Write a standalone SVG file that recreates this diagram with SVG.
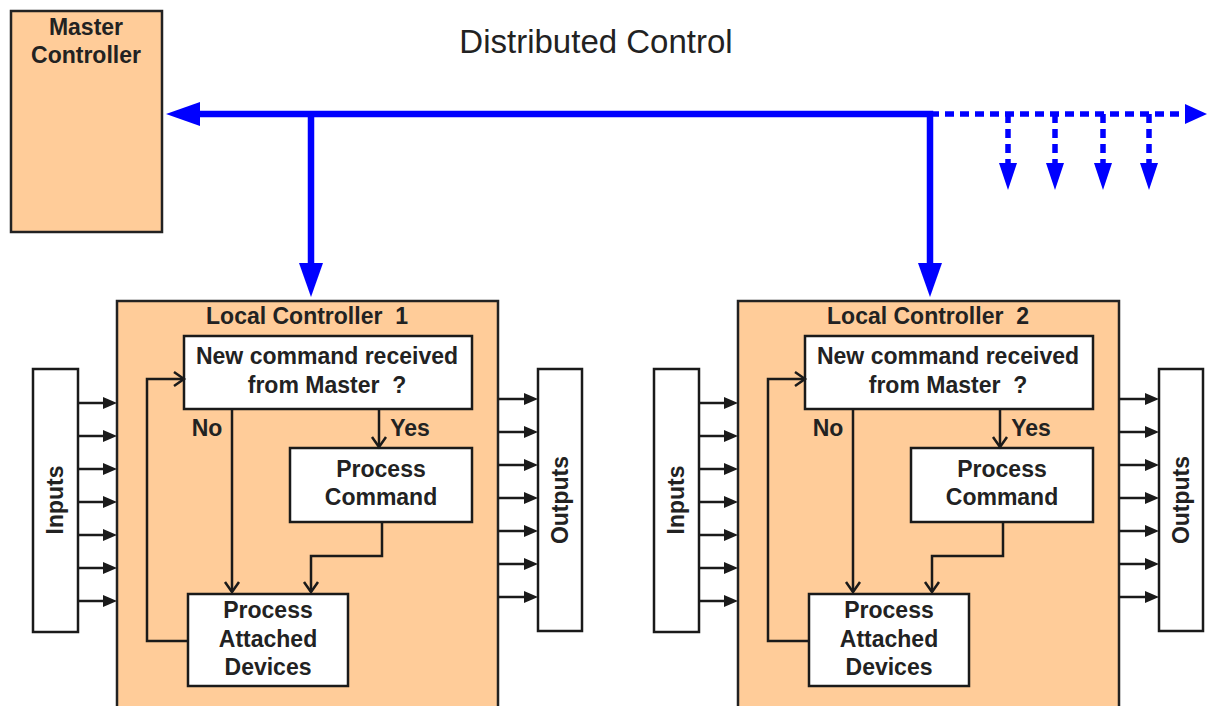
<svg xmlns="http://www.w3.org/2000/svg" width="1208" height="706" viewBox="0 0 1208 706">
  <style>
    .bg { fill: #ffffff; }
    .peach { fill: #ffcc99; stroke: #222222; stroke-width: 2.5; }
    .box { fill: #ffffff; stroke: #1a1a1a; stroke-width: 2.5; }
    .lbl { font-family: "Liberation Sans", Arial, sans-serif; font-weight: bold; font-size: 23px; fill: #222222; text-anchor: middle; white-space: pre; }
    .heading { font-family: "Liberation Sans", Arial, sans-serif; font-size: 33px; fill: #222222; text-anchor: middle; }
    .bus { fill: none; stroke: #0000ff; stroke-width: 6.5; stroke-linejoin: miter; }
    .bus-dash { fill: none; stroke: #0000ff; stroke-width: 5.5; stroke-dasharray: 9 6; }
    .flow { fill: none; stroke: #1a1a1a; stroke-width: 2.5; }
    .io { fill: none; stroke: #1a1a1a; stroke-width: 2.5; marker-end: url(#tri); }
  </style>
  <defs>
    <marker id="busHead" markerUnits="userSpaceOnUse" viewBox="0 0 34 24" markerWidth="34" markerHeight="24" refX="0" refY="12" orient="auto-start-reverse">
      <path d="M0,0 L34,12 L0,24 z" fill="#0000ff"/>
    </marker>
    <marker id="dashHead" markerUnits="userSpaceOnUse" viewBox="0 0 27 18" markerWidth="27" markerHeight="18" refX="0" refY="9" orient="auto">
      <path d="M0,0 L27,9 L0,18 z" fill="#0000ff"/>
    </marker>
    <marker id="endHead" markerUnits="userSpaceOnUse" viewBox="0 0 22 20" markerWidth="22" markerHeight="20" refX="0" refY="10" orient="auto">
      <path d="M0,0 L22,10 L0,20 z" fill="#0000ff"/>
    </marker>
    <marker id="tri" markerUnits="userSpaceOnUse" viewBox="0 0 14 12" markerWidth="14" markerHeight="12" refX="0" refY="6" orient="auto">
      <path d="M0,0 L14,6 L0,12 z" fill="#1a1a1a"/>
    </marker>
    <marker id="chev" markerUnits="userSpaceOnUse" viewBox="-12 -9 14 18" markerWidth="14" markerHeight="18" refX="0" refY="0" orient="auto" overflow="visible">
      <path d="M-10,-7 L0,0 L-10,7" fill="none" stroke="#1a1a1a" stroke-width="2.5"/>
    </marker>
  </defs>

  <rect class="bg" x="0" y="0" width="1208" height="706"/>

  <text id="title" class="heading" x="596" y="53">Distributed Control</text>

  <g id="master-controller">
    <rect class="peach" x="11" y="11" width="151" height="221"/>
    <text class="lbl" x="86" y="35">Master</text>
    <text class="lbl" x="86" y="63">Controller</text>
  </g>

  <!-- Local controller 1 -->
  <g id="local-controller-1">
    <rect class="peach" x="117" y="301" width="381" height="420"/>
    <text class="lbl" x="307" y="324" xml:space="preserve">Local Controller  1</text>
  </g>
  <g id="lc1-inputs">
    <rect class="box" x="33" y="369" width="45" height="263"/>
    <text class="lbl" transform="translate(63,500) rotate(-90)">Inputs</text>
  </g>
  <g id="lc1-outputs">
    <rect class="box" x="538" y="369" width="44" height="262"/>
    <text class="lbl" transform="translate(568,500) rotate(-90)">Outputs</text>
  </g>
  <g id="lc1-decision">
    <rect class="box" x="184" y="336" width="288" height="73"/>
    <text class="lbl" x="327" y="364">New command received</text>
    <text class="lbl" x="327" y="393" xml:space="preserve">from Master  ?</text>
  </g>
  <g id="lc1-process-command">
    <rect class="box" x="290" y="448" width="182" height="74"/>
    <text class="lbl" x="381" y="477">Process</text>
    <text class="lbl" x="381" y="505">Command</text>
  </g>
  <g id="lc1-process-devices">
    <rect class="box" x="188" y="594" width="160" height="92"/>
    <text class="lbl" x="268" y="618">Process</text>
    <text class="lbl" x="268" y="647">Attached</text>
    <text class="lbl" x="268" y="675">Devices</text>
  </g>

  <!-- Local controller 2 (same layout, shifted right) -->
  <g id="local-controller-2" transform="translate(621,0)">
    <rect class="peach" x="117" y="301" width="381" height="420"/>
    <text class="lbl" x="307" y="324" xml:space="preserve">Local Controller  2</text>
  </g>
  <g id="lc2-inputs" transform="translate(621,0)">
    <rect class="box" x="33" y="369" width="45" height="263"/>
    <text class="lbl" transform="translate(63,500) rotate(-90)">Inputs</text>
  </g>
  <g id="lc2-outputs" transform="translate(621,0)">
    <rect class="box" x="538" y="369" width="44" height="262"/>
    <text class="lbl" transform="translate(568,500) rotate(-90)">Outputs</text>
  </g>
  <g id="lc2-decision" transform="translate(621,0)">
    <rect class="box" x="184" y="336" width="288" height="73"/>
    <text class="lbl" x="327" y="364">New command received</text>
    <text class="lbl" x="327" y="393" xml:space="preserve">from Master  ?</text>
  </g>
  <g id="lc2-process-command" transform="translate(621,0)">
    <rect class="box" x="290" y="448" width="182" height="74"/>
    <text class="lbl" x="381" y="477">Process</text>
    <text class="lbl" x="381" y="505">Command</text>
  </g>
  <g id="lc2-process-devices" transform="translate(621,0)">
    <rect class="box" x="188" y="594" width="160" height="92"/>
    <text class="lbl" x="268" y="618">Process</text>
    <text class="lbl" x="268" y="647">Attached</text>
    <text class="lbl" x="268" y="675">Devices</text>
  </g>

  <g id="connectors">
    <!-- communication bus -->
    <path class="bus" d="M200,114 H930 V263" marker-start="url(#busHead)" marker-end="url(#busHead)"/>
    <path class="bus" d="M311,114 V263" marker-end="url(#busHead)"/>
    <path class="bus-dash" d="M930,114 H1185" marker-end="url(#endHead)"/>
    <path class="bus-dash" d="M1008,114 V163" marker-end="url(#dashHead)"/>
    <path class="bus-dash" d="M1055,114 V163" marker-end="url(#dashHead)"/>
    <path class="bus-dash" d="M1103,114 V163" marker-end="url(#dashHead)"/>
    <path class="bus-dash" d="M1149,114 V163" marker-end="url(#dashHead)"/>

    <!-- controller flows, both controllers -->
    <g id="lc1-flow">
      <path class="flow" d="M232,409 V592" marker-end="url(#chev)"/>
      <path class="flow" d="M379,409 V447" marker-end="url(#chev)"/>
      <path class="flow" d="M382,522 V556 H311 V592" marker-end="url(#chev)"/>
      <path class="flow" d="M188,641 H147 V379 H184" marker-end="url(#chev)"/>
      <text class="lbl" x="207" y="436">No</text>
      <text class="lbl" x="410" y="436">Yes</text>
      <path class="io" d="M78,403 H103"/>
      <path class="io" d="M78,436 H103"/>
      <path class="io" d="M78,469 H103"/>
      <path class="io" d="M78,502 H103"/>
      <path class="io" d="M78,535 H103"/>
      <path class="io" d="M78,568 H103"/>
      <path class="io" d="M78,601 H103"/>
      <path class="io" d="M498,399 H524"/>
      <path class="io" d="M498,432 H524"/>
      <path class="io" d="M498,465 H524"/>
      <path class="io" d="M498,498 H524"/>
      <path class="io" d="M498,531 H524"/>
      <path class="io" d="M498,564 H524"/>
      <path class="io" d="M498,597 H524"/>
    </g>
    <g id="lc2-flow" transform="translate(621,0)">
      <path class="flow" d="M232,409 V592" marker-end="url(#chev)"/>
      <path class="flow" d="M379,409 V447" marker-end="url(#chev)"/>
      <path class="flow" d="M382,522 V556 H311 V592" marker-end="url(#chev)"/>
      <path class="flow" d="M188,641 H147 V379 H184" marker-end="url(#chev)"/>
      <text class="lbl" x="207" y="436">No</text>
      <text class="lbl" x="410" y="436">Yes</text>
      <path class="io" d="M78,403 H103"/>
      <path class="io" d="M78,436 H103"/>
      <path class="io" d="M78,469 H103"/>
      <path class="io" d="M78,502 H103"/>
      <path class="io" d="M78,535 H103"/>
      <path class="io" d="M78,568 H103"/>
      <path class="io" d="M78,601 H103"/>
      <path class="io" d="M498,399 H524"/>
      <path class="io" d="M498,432 H524"/>
      <path class="io" d="M498,465 H524"/>
      <path class="io" d="M498,498 H524"/>
      <path class="io" d="M498,531 H524"/>
      <path class="io" d="M498,564 H524"/>
      <path class="io" d="M498,597 H524"/>
    </g>
  </g>
</svg>
